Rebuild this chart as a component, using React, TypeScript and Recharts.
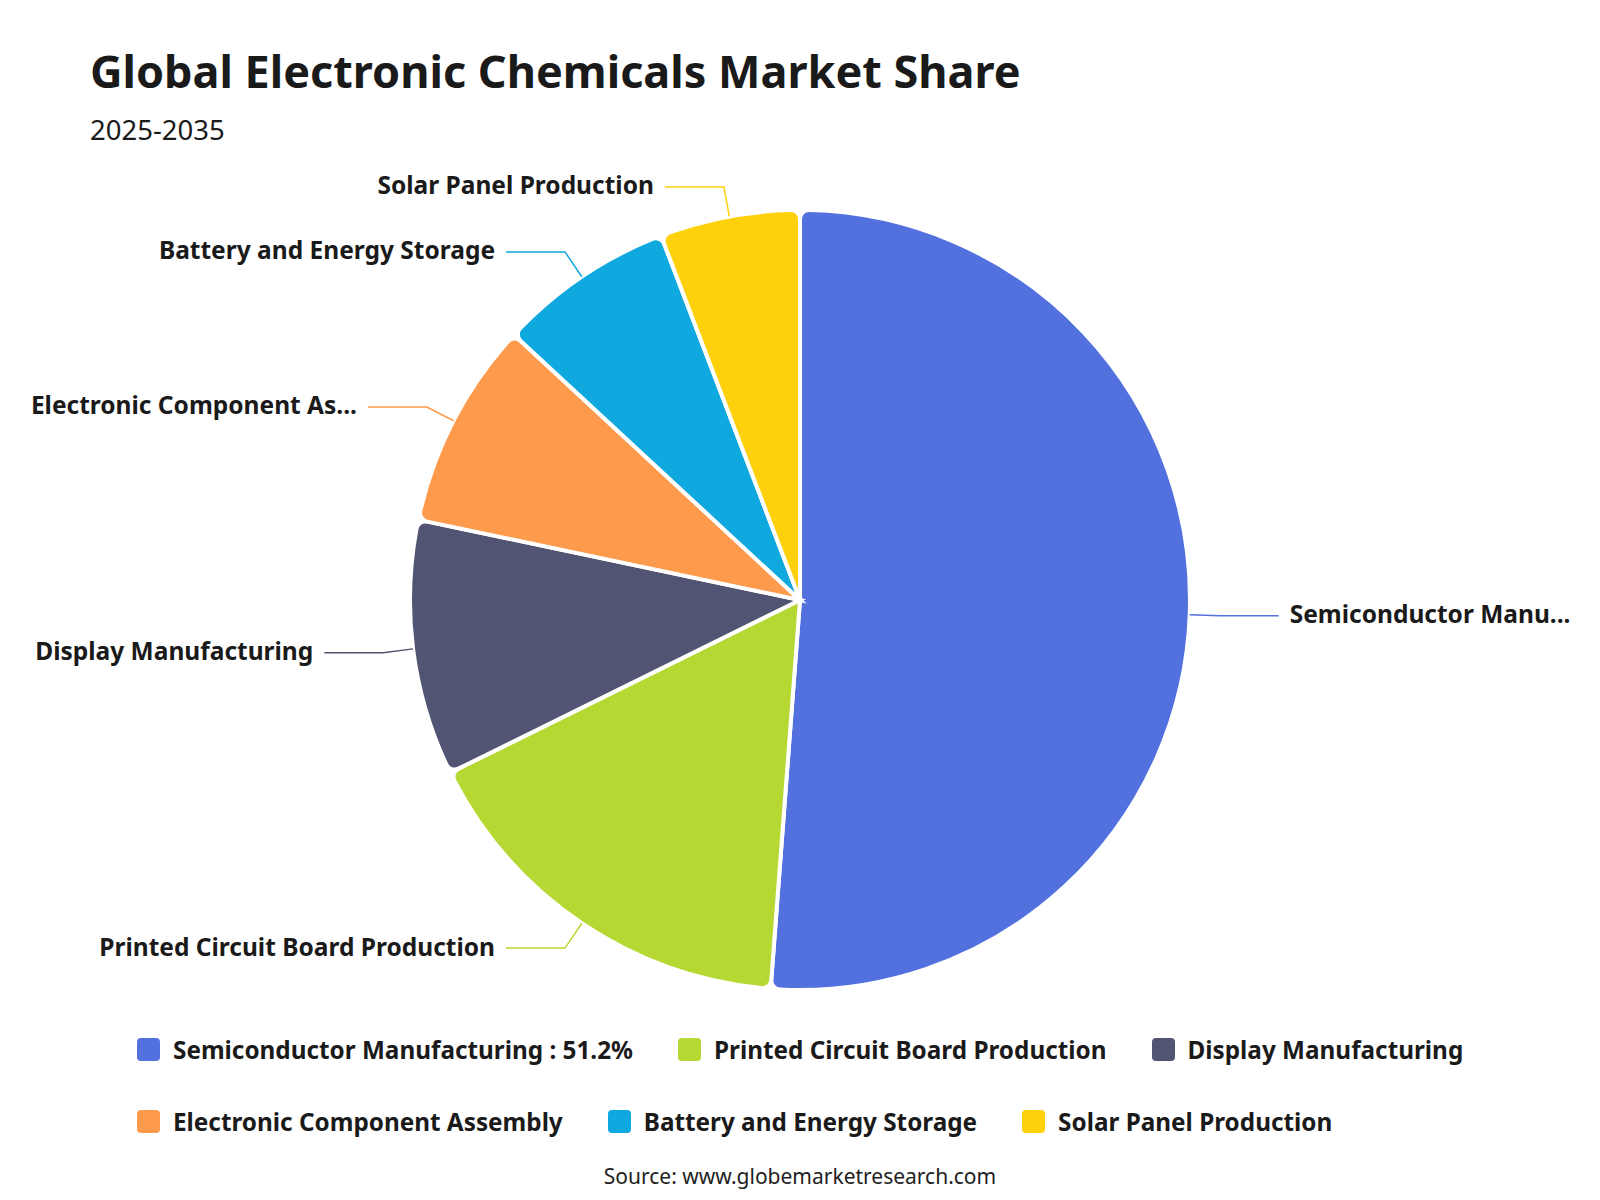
import React from 'react'
import { PieChart, Pie, Cell, Legend } from 'recharts'

// segment names, shares (%) and slice colours
const segments = [
  'Semiconductor Manufacturing',
  'Printed Circuit Board Production',
  'Display Manufacturing',
  'Electronic Component Assembly',
  'Battery and Energy Storage',
  'Solar Panel Production'
]
const shares = [51.2, 16.5, 10.6, 8.6, 7.3, 5.8]
const colors = ['#5271df', '#b6d833', '#515472', '#fe9a4c', '#0fa8df', '#fed10c']

const chartTitle = 'Global Electronic Chemicals Market Share'
const chartSubtitle = '2025-2035'
const sourceText = 'Source: www.globemarketresearch.com'

const FONT = '"Noto Sans", sans-serif'
const LABEL_SIZE = 24.5
const RAD = Math.PI / 180

const data = segments.map((name, i) => ({ name, value: shares[i] }))

// measure label text and cut it with an ellipsis when it runs out of room
let measureCtx: CanvasRenderingContext2D | null = null
const truncate = (text: string, maxWidth: number) => {
  if (!measureCtx) {
    measureCtx = document.createElement('canvas').getContext('2d')
  }
  if (!measureCtx) return text
  measureCtx.font = `bold ${LABEL_SIZE}px ${FONT}`
  if (measureCtx.measureText(text).width <= maxWidth) return text
  let cut = text
  while (cut.length > 1 && measureCtx.measureText(cut + '...').width > maxWidth) {
    cut = cut.slice(0, -1)
  }
  return cut + '...'
}

const renderLabel = (props: any) => {
  const { cx, cy, midAngle, outerRadius, index } = props
  const cos = Math.cos(-midAngle * RAD)
  const sin = Math.sin(-midAngle * RAD)
  const sx = cx + outerRadius * cos
  const sy = cy + outerRadius * sin
  const mx = cx + (outerRadius + 30) * cos
  const my = cy + (outerRadius + 30) * sin
  const right = cos >= 0
  const ex = mx + (right ? 59 : -59)
  const tx = ex + (right ? 11 : -11)
  const room = right ? 1600 - 25 - tx : tx - 28
  const color = colors[index % colors.length]
  return (
    <g>
      <path d={`M${sx},${sy}L${mx},${my}L${ex},${my}`} stroke={color} strokeWidth={1.5} fill="none" />
      <text
        x={tx}
        y={my - 2}
        textAnchor={right ? 'start' : 'end'}
        dominantBaseline="central"
        fill="#1a1a1a"
        fontFamily={FONT}
        fontWeight="bold"
        fontSize={LABEL_SIZE}
      >
        {truncate(segments[index], room)}
      </text>
    </g>
  )
}

// legend keeps the data order (recharts sorts the payload by name)
const renderLegend = () => {
  const rows = [segments.slice(0, 3), segments.slice(3)]
  return (
    <div style={{ marginLeft: 137 }}>
      {rows.map((row, r) => (
        <div key={r} style={{ display: 'flex', height: 30, marginBottom: 42 }}>
          {row.map((name, i) => {
            const idx = r * 3 + i
            const text = idx === 0 ? `${name} : ${shares[0]}%` : name
            return (
              <div key={name} style={{ display: 'flex', alignItems: 'center', marginRight: 45 }}>
                <span
                  style={{
                    width: 23,
                    height: 23,
                    borderRadius: 4,
                    background: colors[idx],
                    marginRight: 13,
                    display: 'inline-block'
                  }}
                />
                <span style={{ fontFamily: FONT, fontWeight: 'bold', fontSize: 24.3, color: '#1a1a1a', whiteSpace: 'nowrap' }}>
                  {text}
                </span>
              </div>
            )
          })}
        </div>
      ))}
    </div>
  )
}

export default function App() {
  return (
    <div style={{ position: 'absolute', left: 0, top: 0, width: 1600, height: 1200, background: '#fff' }}>
      <div
        style={{
          position: 'absolute',
          left: 90,
          top: 44,
          fontFamily: FONT,
          fontWeight: 'bold',
          fontSize: 45,
          lineHeight: '54px',
          color: '#1a1a1a'
        }}
      >
        {chartTitle}
      </div>
      <div
        style={{
          position: 'absolute',
          left: 90,
          top: 112,
          fontFamily: FONT,
          fontSize: 27.5,
          lineHeight: '36px',
          color: '#1a1a1a'
        }}
      >
        {chartSubtitle}
      </div>
      <PieChart width={1600} height={1200} margin={{ top: 0, right: 0, bottom: 0, left: 0 }}>
        <Pie
          data={data}
          dataKey="value"
          nameKey="name"
          cx={800}
          cy={600}
          outerRadius={390}
          startAngle={90}
          endAngle={-270}
          cornerRadius={9}
          stroke="#ffffff"
          strokeWidth={4}
          label={renderLabel}
          labelLine={false}
          isAnimationActive={false}
        >
          {data.map((d, i) => (
            <Cell key={d.name} fill={colors[i]} />
          ))}
        </Pie>
        <Legend
          content={renderLegend}
          wrapperStyle={{ position: 'absolute', left: 0, top: 1034, bottom: 'auto', width: 1600 }}
        />
      </PieChart>
      <div
        style={{
          position: 'absolute',
          left: 0,
          width: 1600,
          top: 1162,
          textAlign: 'center',
          fontFamily: FONT,
          fontSize: 21,
          lineHeight: '28px',
          color: '#222'
        }}
      >
        {sourceText}
      </div>
    </div>
  )
}
